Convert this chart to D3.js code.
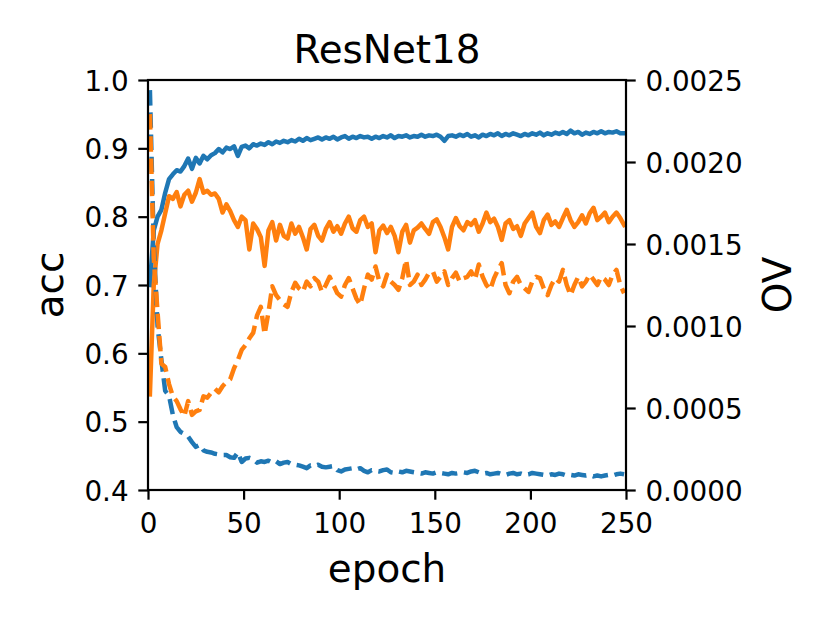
<!DOCTYPE html>
<html>
<head>
<meta charset="utf-8">
<script src="https://cdn.jsdelivr.net/npm/d3@7"></script>
<style>
  body { margin: 0; background: #fff; }
  svg { display: block; }
</style>
</head>
<body>
<svg id="chart"></svg>
<script>
// epochs sampled every 2nd epoch (1, 3, ..., 249)
var epochs = d3.range(1, 251, 2);

// acc (left axis)
var accBlue = [
  0.70,0.78,0.80,0.81,0.835,0.855,0.862,0.868,0.866,0.874,
  0.885,0.870,0.886,0.878,0.889,0.884,0.890,0.893,0.899,0.894,
  0.901,0.899,0.903,0.889,0.902,0.904,0.900,0.906,0.904,0.907,
  0.905,0.909,0.906,0.910,0.908,0.911,0.909,0.912,0.910,0.914,
  0.911,0.915,0.912,0.914,0.916,0.913,0.916,0.914,0.917,0.913,
  0.916,0.918,0.914,0.917,0.915,0.918,0.916,0.917,0.914,0.917,
  0.915,0.918,0.916,0.919,0.915,0.918,0.917,0.919,0.916,0.918,
  0.917,0.920,0.917,0.919,0.918,0.920,0.917,0.911,0.918,0.919,
  0.917,0.920,0.918,0.921,0.917,0.919,0.916,0.920,0.918,0.921,
  0.919,0.922,0.918,0.921,0.919,0.922,0.920,0.918,0.921,0.919,
  0.922,0.920,0.923,0.919,0.922,0.920,0.923,0.921,0.924,0.921,
  0.926,0.922,0.924,0.920,0.923,0.921,0.924,0.922,0.925,0.922,
  0.924,0.923,0.925,0.922,0.922
];
var accOrange = [
  0.54,0.70,0.76,0.78,0.805,0.83,0.826,0.836,0.815,0.832,
  0.838,0.822,0.835,0.855,0.835,0.838,0.832,0.834,0.826,0.806,
  0.818,0.808,0.795,0.785,0.80,0.795,0.752,0.79,0.782,0.77,
  0.728,0.78,0.792,0.765,0.788,0.772,0.768,0.79,0.775,0.785,
  0.77,0.752,0.782,0.788,0.772,0.765,0.782,0.792,0.778,0.786,
  0.775,0.79,0.80,0.783,0.778,0.795,0.80,0.785,0.79,0.748,
  0.78,0.787,0.776,0.785,0.772,0.748,0.778,0.788,0.762,0.78,
  0.784,0.79,0.782,0.775,0.792,0.796,0.785,0.77,0.752,0.785,
  0.798,0.786,0.78,0.792,0.788,0.795,0.778,0.79,0.806,0.792,
  0.797,0.785,0.766,0.79,0.795,0.782,0.786,0.772,0.79,0.798,
  0.806,0.785,0.776,0.795,0.803,0.788,0.793,0.785,0.798,0.81,
  0.795,0.785,0.792,0.802,0.79,0.805,0.813,0.795,0.80,0.806,
  0.792,0.80,0.806,0.798,0.788
];

// OV (right axis)
var ovBlue = [
  0.002438,0.0015,0.001,0.000792,0.000604,0.000575,0.000458,0.000383,0.000354,0.000342,
  0.000325,0.000292,0.000263,0.000275,0.000242,0.000233,0.000229,0.000221,0.000217,0.000213,
  0.000213,0.0002,0.000196,0.000229,0.000171,0.000192,0.000196,0.000188,0.000167,0.000175,
  0.000171,0.000179,0.000167,0.000175,0.000158,0.000167,0.000171,0.000158,0.000154,0.00015,
  0.000142,0.000133,0.00015,0.000146,0.000154,0.000142,0.000138,0.000142,0.000146,0.000121,
  0.000113,0.000125,0.000129,0.000133,0.000125,0.000133,0.000117,0.000108,0.000121,0.000117,
  0.000113,0.000121,0.000125,0.000108,0.000104,0.000113,0.000108,0.000117,0.000113,0.000108,
  0.000104,0.0001,0.000108,0.000104,0.0001,0.000108,0.000104,0.0001,0.000096,0.000104,
  0.0001,0.000104,0.000108,0.000104,0.000113,0.000117,0.000108,0.0001,0.000104,0.000096,
  0.0001,0.000104,0.000096,0.000092,0.0001,0.000104,0.000096,0.0001,0.000092,0.000096,
  0.000104,0.0001,0.000096,0.000092,0.000088,0.000096,0.000092,0.0001,0.000096,0.000088,
  0.000092,0.000088,0.000096,0.000092,0.000088,0.000092,0.000083,0.000088,0.000083,0.000088,
  0.000092,0.000088,0.000096,0.0001,0.000096
];
var ovOrange = [
  0.002292,0.001417,0.001083,0.000771,0.00075,0.000646,0.000571,0.000542,0.000492,0.00045,
  0.000542,0.000458,0.000479,0.000488,0.000571,0.000563,0.000592,0.000617,0.000596,0.000633,
  0.000658,0.000675,0.000742,0.000792,0.000854,0.000883,0.000925,0.000958,0.001063,0.001117,
  0.00095,0.001083,0.001242,0.001188,0.001158,0.001133,0.001117,0.001208,0.001263,0.001229,
  0.001208,0.001271,0.001242,0.001292,0.001271,0.001208,0.00125,0.0013,0.00125,0.0012,
  0.001179,0.00125,0.001292,0.001229,0.001167,0.001129,0.001229,0.001313,0.001283,0.001363,
  0.001271,0.001242,0.001313,0.001271,0.00125,0.001221,0.001292,0.001404,0.00125,0.001271,
  0.001313,0.00125,0.001283,0.001325,0.001333,0.001271,0.0013,0.001333,0.00125,0.001292,
  0.001325,0.001271,0.001292,0.0013,0.001333,0.001283,0.001375,0.0013,0.00125,0.001221,
  0.001292,0.001342,0.001383,0.00125,0.0012,0.001271,0.0013,0.00125,0.001229,0.001208,
  0.001271,0.0013,0.001292,0.001229,0.001188,0.00125,0.001292,0.001271,0.001342,0.00125,
  0.001188,0.00125,0.0013,0.001242,0.001271,0.001313,0.001283,0.00125,0.0013,0.001283,
  0.00125,0.001313,0.001342,0.00125,0.0012
];

var xTicks = [0, 50, 100, 150, 200, 250];
var accTicks = [0.4, 0.5, 0.6, 0.7, 0.8, 0.9, 1.0];
var ovTicks = [0, 0.0005, 0.001, 0.0015, 0.002, 0.0025];

var width = 830, height = 623;
var margin = {top: 80, right: 204, bottom: 133, left: 148};
var innerW = width - margin.left - margin.right;
var innerH = height - margin.top - margin.bottom;

var blue = "#1f77b4", orange = "#ff7f0e";
var font = "DejaVu Sans";

var svg = d3.select("#chart")
    .attr("width", width)
    .attr("height", height);

var x = d3.scaleLinear().domain([0, 250]).range([0, innerW]);
var yAcc = d3.scaleLinear().domain([0.4, 1.0]).range([innerH, 0]);
var yOv = d3.scaleLinear().domain([0, 0.0025]).range([innerH, 0]);

svg.append("defs").append("clipPath")
    .attr("id", "plotclip")
  .append("rect")
    .attr("width", innerW)
    .attr("height", innerH);

var g = svg.append("g")
    .attr("transform", `translate(${margin.left},${margin.top})`);

var lines = g.append("g")
    .attr("clip-path", "url(#plotclip)")
    .attr("fill", "none")
    .attr("stroke-width", 4.5)
    .attr("stroke-linejoin", "round");

function drawLine(vals, scale, color, dashed) {
  var line = d3.line()
      .x((d, i) => x(epochs[i]))
      .y(d => scale(d));
  var p = lines.append("path")
      .datum(vals)
      .attr("stroke", color)
      .attr("d", line);
  if (dashed) p.attr("stroke-dasharray", "15.5,6.7");
  else p.attr("stroke-linecap", "square");
}

drawLine(accBlue, yAcc, blue, false);
drawLine(accOrange, yAcc, orange, false);
drawLine(ovBlue, yOv, blue, true);
drawLine(ovOrange, yOv, orange, true);

// axes
var tickLen = 9.7, tickPad = 9.7;

var xAxis = g.append("g")
    .attr("transform", `translate(0,${innerH})`)
    .call(d3.axisBottom(x).tickValues(xTicks).tickSize(tickLen).tickPadding(tickPad)
      .tickFormat(d3.format("d")));

var leftAxis = g.append("g")
    .call(d3.axisLeft(yAcc).tickValues(accTicks).tickSize(tickLen).tickPadding(tickPad)
      .tickFormat(d3.format(".1f")));

var rightAxis = g.append("g")
    .attr("transform", `translate(${innerW},0)`)
    .call(d3.axisRight(yOv).tickValues(ovTicks).tickSize(tickLen).tickPadding(tickPad)
      .tickFormat(d3.format(".4f")));

[xAxis, leftAxis, rightAxis].forEach(a => {
  a.select(".domain").remove();
  a.selectAll(".tick line").attr("stroke", "#000").attr("stroke-width", 2.2);
  a.selectAll(".tick text")
      .attr("font-family", font)
      .attr("font-size", 27.8)
      .attr("fill", "#000");
});
xAxis.selectAll(".tick text").attr("dy", null).attr("y", tickLen + tickPad + 23.5);
leftAxis.selectAll(".tick text").attr("dy", "0.36em");
rightAxis.selectAll(".tick text").attr("dy", "0.36em");

// frame
g.append("rect")
    .attr("width", innerW)
    .attr("height", innerH)
    .attr("fill", "none")
    .attr("stroke", "#000")
    .attr("stroke-width", 2.2);

// title and labels
svg.append("text")
    .attr("x", margin.left + innerW / 2)
    .attr("y", 63)
    .attr("text-anchor", "middle")
    .attr("font-family", font)
    .attr("font-size", 38.9)
    .text("ResNet18");

svg.append("text")
    .attr("x", margin.left + innerW / 2)
    .attr("y", 582)
    .attr("text-anchor", "middle")
    .attr("font-family", font)
    .attr("font-size", 38.9)
    .text("epoch");

svg.append("text")
    .attr("transform", `translate(63,${margin.top + innerH / 2}) rotate(-90)`)
    .attr("text-anchor", "middle")
    .attr("font-family", font)
    .attr("font-size", 38.9)
    .text("acc");

svg.append("text")
    .attr("transform", `translate(791,${margin.top + innerH / 2}) rotate(-90)`)
    .attr("text-anchor", "middle")
    .attr("font-family", font)
    .attr("font-size", 38.9)
    .text("OV");
</script>
</body>
</html>
